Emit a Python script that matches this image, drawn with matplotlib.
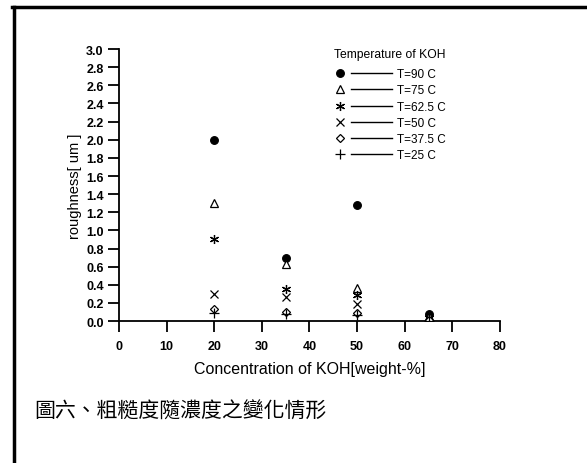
import matplotlib.pyplot as plt
from matplotlib.lines import Line2D
from matplotlib.legend_handler import HandlerBase

plt.rcParams['font.family'] = ['Liberation Sans', 'DejaVu Sans']

# KOH concentration [weight-%]
conc = [20, 35, 50, 65]

# roughness [um] for each KOH temperature
r_90 = [2.0, 0.69, 1.28, 0.08]
r_75 = [1.3, 0.63, 0.36, 0.05]
r_625 = [0.9, 0.35, 0.29, 0.03]
r_50 = [0.3, 0.26, 0.19, 0.02]
r_375 = [0.13, 0.10, 0.09, 0.01]
r_25 = [0.09, 0.08, 0.07, 0.0]

labels = ['T=90 C', 'T=75 C', 'T=62.5 C', 'T=50 C', 'T=37.5 C', 'T=25 C']
series = [r_90, r_75, r_625, r_50, r_375, r_25]
markers = ['o', '^', (6, 2, 0), 'x', 'D', '+']
msizes = [5.5, 5.5, 6.5, 6, 4, 7]
filled = [True, False, False, False, False, False]

xticks = [0, 10, 20, 30, 40, 50, 60, 70, 80]
yticks = [0.0, 0.2, 0.4, 0.6, 0.8, 1.0, 1.2, 1.4, 1.6, 1.8, 2.0, 2.2, 2.4, 2.6, 2.8, 3.0]


class MarkerThenLine(HandlerBase):
    # marker at the left of the handle box, then a line up to the label
    def create_artists(self, legend, orig, xdescent, ydescent, width, height,
                       fontsize, trans):
        y = height / 2 - ydescent
        mk = Line2D([-xdescent + 4], [y])
        mk.update_from(orig)
        mk.set_linestyle('none')
        ln = Line2D([-xdescent + 0.29 * width, width - xdescent], [y, y],
                    color='black', linewidth=1.0)
        mk.set_transform(trans)
        ln.set_transform(trans)
        return [mk, ln]


fig = plt.figure(figsize=(5.87, 4.64), dpi=100)
ax = fig.add_axes([0.2027, 0.306, 0.649, 0.586])

handles = []
for y, lab, m, ms, f in zip(series, labels, markers, msizes, filled):
    fc = 'black' if f else 'white'
    h, = ax.plot(conc, y, linestyle='none', marker=m, markersize=ms,
                 markerfacecolor=fc, markeredgecolor='black', markeredgewidth=0.9,
                 color='black', zorder=3)
    handles.append(h)

ax.set_xlim(0, 80)
ax.set_ylim(0, 3.0)
ax.set_xticks(xticks)
ax.set_yticks(yticks)
ax.set_yticklabels([f'{v:.1f}' for v in yticks])
ax.spines['top'].set_visible(False)
ax.spines['right'].set_visible(False)
ax.spines['left'].set_linewidth(1.3)
ax.spines['bottom'].set_linewidth(1.3)
ax.tick_params(direction='out', length=8, width=1.3, labelsize=9)
ax.tick_params(axis='x', pad=6)
ax.tick_params(axis='y', pad=3)
for t in ax.get_xticklabels() + ax.get_yticklabels():
    t.set_fontweight('bold')
ax.set_xlabel('Concentration of KOH[weight-%]', fontsize=11.5, labelpad=6)
ax.set_ylabel('roughness[ um ]', fontsize=10.5, labelpad=3)

leg = ax.legend(handles, labels, title='Temperature of KOH',
                handler_map={Line2D: MarkerThenLine()},
                handlelength=4.9, handletextpad=0.4, labelspacing=0.36,
                fontsize=8.5, title_fontsize=8.7, frameon=False,
                loc='upper left', bbox_to_anchor=(0.552, 1.022),
                borderaxespad=0.0)
leg._legend_box.align = 'left'
leg._legend_box.sep = 6

# caption
fig.text(0.058, 0.112, '圖六、粗糙度隨濃度之變化情形', fontsize=15,
         family=['Noto Sans CJK TC', 'DejaVu Sans'], va='center', ha='left')

# outer frame (left and top edges)
fig.add_artist(Line2D([0.023, 0.023], [0.0, 0.982], color='black', linewidth=2.5,
                      transform=fig.transFigure))
fig.add_artist(Line2D([0.021, 1.0], [0.982, 0.982], color='black', linewidth=2.5,
                      transform=fig.transFigure))

fig.savefig('out.png', dpi=100)
